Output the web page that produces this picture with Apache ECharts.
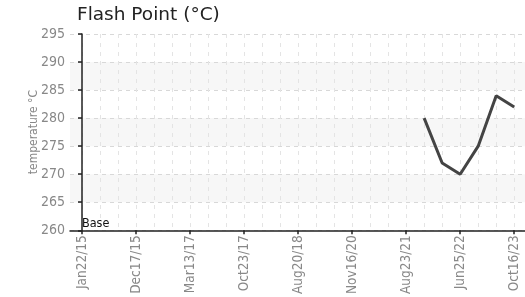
<!DOCTYPE html>
<html lang="en" style="height: 100%">
<head>
  <meta charset="utf-8">
</head>
<body style="height: 100%; margin: 0">
<div id="container" style="width: 525px; height: 297px"></div>

<script type="text/javascript" src="https://fastly.jsdelivr.net/npm/echarts@6/dist/echarts.min.js"></script>
<script type="text/javascript">
  // tick labels (every third sample slot) and the measured values
  var tickLabels = ['Jan22/15', 'Dec17/15', 'Mar13/17', 'Oct23/17', 'Aug20/18',
                    'Nov16/20', 'Aug23/21', 'Jun25/22', 'Oct16/23'];
  var tickSlots = [0, 3, 6, 9, 12, 15, 18, 21, 24];
  var gridSlots = [0, 1, 2, 3, 4, 5, 6, 7, 8, 9, 10, 11, 12, 13, 14, 15, 16, 17, 18, 19, 20, 21, 22, 23, 24];
  var sampleSlots = [19, 20, 21, 22, 23, 24];
  var flashPoint = [280, 272, 270, 275, 284, 282];
  var yTicks = [260, 295, 5];

  var dom = document.getElementById('container');
  var myChart = echarts.init(dom, null, { renderer: 'canvas' });

  var narrow = '"DejaVu Sans Condensed", "DejaVu Sans"';
  var points = sampleSlots.map(function (s, i) { return [s, flashPoint[i]]; });

  var option = {
    animation: false,
    title: {
      text: 'Flash Point (°C)',
      left: 72,
      top: 1,
      textStyle: { fontFamily: 'DejaVu Sans', fontSize: 18.5, fontWeight: 'normal', color: '#222' }
    },
    grid: { left: 70, right: 0, top: 34, bottom: 65 },
    xAxis: [
      {
        type: 'value',
        min: -0.667,
        max: 24.6,
        axisLine: { show: false },
        axisTick: { show: false, customValues: gridSlots },
        axisLabel: { show: false },
        splitLine: { show: true, lineStyle: { color: '#e4e4e4', type: [4, 5] } }
      },
      {
        type: 'value',
        min: -0.667,
        max: 24.6,
        position: 'bottom',
        axisLine: { show: true, lineStyle: { color: '#222', width: 1.5 } },
        axisTick: { show: true, customValues: tickSlots, length: 4, lineStyle: { color: '#222', width: 1.5 } },
        axisLabel: {
          customValues: tickSlots,
          rotate: 90,
          margin: 5,
          color: '#888',
          fontFamily: narrow,
          fontSize: 13.5,
          formatter: function (v) { return tickLabels[tickSlots.indexOf(Math.round(v))] || ''; }
        },
        splitLine: { show: false }
      }
    ],
    yAxis: {
      type: 'value',
      min: yTicks[0],
      max: yTicks[1],
      interval: yTicks[2],
      name: 'temperature °C',
      nameLocation: 'middle',
      nameGap: 30,
      nameMoveOverlap: false,
      nameTextStyle: { color: '#888', fontFamily: narrow, fontSize: 12 },
      axisLine: { show: true, lineStyle: { color: '#222', width: 1.5 } },
      axisTick: { show: true, length: 4, lineStyle: { color: '#222', width: 1.5 } },
      axisLabel: { color: '#888', fontFamily: narrow, fontSize: 14, margin: 5 },
      splitLine: { show: true, lineStyle: { color: '#d8d8d8', type: [4, 4] } },
      splitArea: { show: true, areaStyle: { color: ['rgba(255,255,255,0)', '#f7f7f7'] } }
    },
    series: [
      {
        type: 'line',
        xAxisIndex: 0,
        data: points,
        symbol: 'none',
        lineStyle: { color: '#444', width: 3 },
        markPoint: {
          symbol: 'rect',
          symbolSize: 0,
          data: [{ coord: [0, yTicks[0]] }],
          label: {
            show: true,
            formatter: 'Base',
            position: 'right',
            offset: [-5, -7],
            color: '#111',
            fontFamily: narrow,
            fontSize: 12.5
          }
        }
      }
    ]
  };

  myChart.setOption(option);
  window.addEventListener('resize', myChart.resize);
</script>
</body>
</html>
